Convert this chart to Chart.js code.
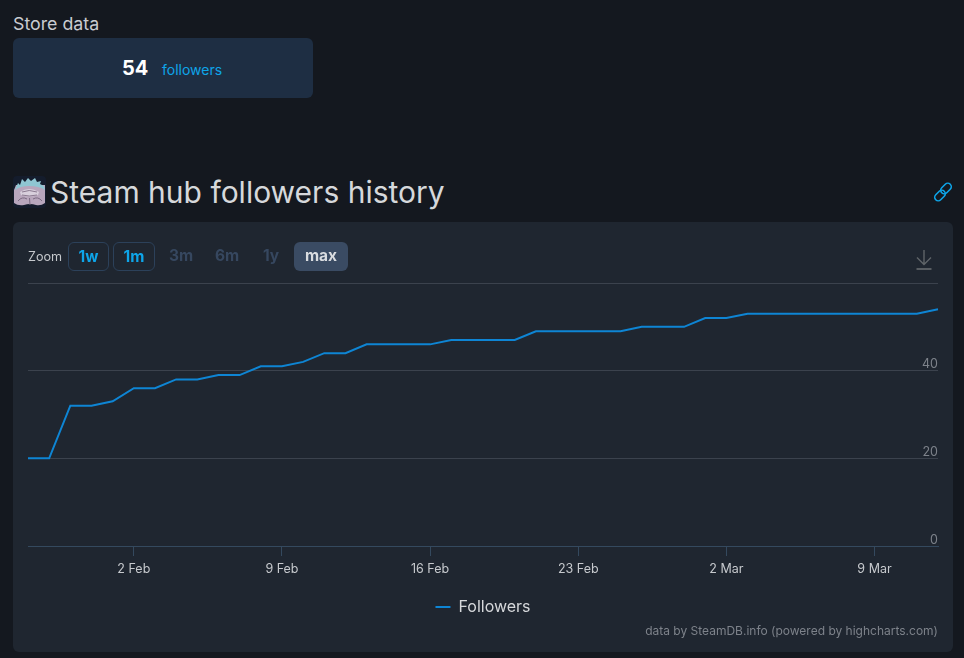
<!DOCTYPE html>
<html>
<head>
<meta charset="utf-8">
<title>Steam hub followers history</title>
<script src="https://cdn.jsdelivr.net/npm/chart.js@4"></script>
<style>
  html, body { margin: 0; height: 100%; background: #14181f; overflow: hidden; }
  body { position: relative; width: 964px; height: 658px; font-family: Inter, 'Noto Sans', sans-serif; }
  .abs { position: absolute; white-space: nowrap; }
  .store-label { left: 13px; top: 13px; font-size: 17.8px; line-height: 22px; color: #c9ccd1; }
  .store-box { left: 13px; top: 38px; width: 300px; height: 60px; background: #1e2e43; border-radius: 6px; }
  .store-num { left: 122px; top: 55px; font-size: 20px; line-height: 26px; font-weight: 700; color: #fff; }
  .store-txt { left: 162px; top: 61px; font-size: 14px; line-height: 18px; color: #0ea5e9; }
  .title { left: 50px; top: 173px; font-size: 30px; line-height: 38px; color: #d6d8db; }
  .avatar { left: 13px; top: 176px; }
  .link { left: 933px; top: 182px; }
  .card { left: 13px; top: 222px; width: 940px; height: 430px; background: #1f2630; border-radius: 6px; }
  canvas { position: absolute; left: 13px; top: 222px; }
  .zoom { left: 28px; top: 249px; font-size: 12.6px; line-height: 16px; color: #c6c9cd; }
  .btn { top: 242px; height: 29px; line-height: 28px; box-sizing: border-box; text-align: center;
         font-size: 15.5px; font-weight: 700; border-radius: 6px; color: #36475f; }
  .btn.on { color: #0ea5e9; border: 1px solid #2c415a; line-height: 27px; }
  .btn.sel { background: #3a4b63; color: #d9dce0; }
  .download { left: 914px; top: 249px; }
  .credits { right: 26px; top: 623px; font-size: 12px; line-height: 15px; color: #7d828a; }
</style>
</head>
<body>
<div class="abs store-label">Store data</div>
<div class="abs store-box"></div>
<div class="abs store-num">54</div>
<div class="abs store-txt">followers</div>

<svg class="abs avatar" width="33" height="32" viewBox="0 0 33 32">
  <rect width="33" height="32" rx="4" fill="#141c2c"/>
  <path d="M1 14 L3 9 L32 9 L32 27 Q28 30 23 29 Q17 27 11 29 Q5 30 1 27 Z" fill="#b8a6bc"/>
  <path d="M2 14 L5 7 L7 9 L9 3 L12 6 L15 2 L18 5 L22 2 L24 6 L28 5 L27 8 L31 10 L32 14 Q26 10 16 10 Q7 10 2 14 Z" fill="#8fc6d2"/>
  <path d="M7 16 Q16 10 26 16 L25 19 Q16 22 8 19 Z" fill="#d8cfdc"/>
  <path d="M9 16 Q16 13 24 16 M9 19 Q16 21 24 19" stroke="#8b7a90" fill="none"/>
  <path d="M16.500 22 L17 29 M5 25 Q9 20 14 23 M20 23 Q25 20 29 25" stroke="#7b6a81" fill="none"/>
</svg>
<div class="abs title">Steam hub followers history</div>
<svg class="abs link" width="20" height="20" viewBox="0 0 20 20" fill="none" stroke="#0ea5e9" stroke-width="1.6">
  <rect x="9.500" y="0.500" width="7" height="12" rx="3.500" transform="rotate(45 13 6.500)"/>
  <rect x="3.500" y="7.500" width="7" height="12" rx="3.500" transform="rotate(45 7 13.500)"/>
</svg>

<div class="abs card"></div>
<canvas id="followersChart"></canvas>

<div class="abs zoom">Zoom</div>
<div class="abs btn on" style="left:68px;width:41px">1w</div>
<div class="abs btn on" style="left:113px;width:42px">1m</div>
<div class="abs btn" style="left:160px;width:42px">3m</div>
<div class="abs btn" style="left:206px;width:42px">6m</div>
<div class="abs btn" style="left:250px;width:42px">1y</div>
<div class="abs btn sel" style="left:294px;width:54px">max</div>
<svg class="abs download" width="20" height="22" viewBox="0 0 20 22" fill="none" stroke="#5f6468" stroke-width="1.4">
  <path d="M10 1 V15 M3 8.5 L10 15.5 L17 8.5"/>
  <path d="M2.5 20 H17.5" stroke-width="1.8"/>
</svg>
<div class="abs credits">data by SteamDB.info (powered by highcharts.com)</div>

<script>
// ── Data ──────────────────────────────────────────────────────
const days = [
  '28 Jan', '29 Jan', '30 Jan', '31 Jan',
  '1 Feb', '2 Feb', '3 Feb', '4 Feb', '5 Feb', '6 Feb', '7 Feb', '8 Feb', '9 Feb', '10 Feb',
  '11 Feb', '12 Feb', '13 Feb', '14 Feb', '15 Feb', '16 Feb', '17 Feb', '18 Feb', '19 Feb', '20 Feb',
  '21 Feb', '22 Feb', '23 Feb', '24 Feb', '25 Feb', '26 Feb', '27 Feb', '28 Feb',
  '1 Mar', '2 Mar', '3 Mar', '4 Mar', '5 Mar', '6 Mar', '7 Mar', '8 Mar', '9 Mar', '10 Mar', '11 Mar', '12 Mar',
];
const followers = [
  20, 20, 32, 32,
  33, 36, 36, 38, 38, 39, 39, 41, 41, 42,
  44, 44, 46, 46, 46, 46, 47, 47, 47, 47,
  49, 49, 49, 49, 49, 50, 50, 50,
  52, 52, 53, 53, 53, 53, 53, 53, 53, 53, 53, 54,
];
const xTickLabels = ['2 Feb', '9 Feb', '16 Feb', '23 Feb', '2 Mar', '9 Mar'];
const yTickLabels = [0, 20, 40];

// ── Chart ─────────────────────────────────────────────────────
const canvas = document.getElementById('followersChart');
canvas.style.width = '940px';
canvas.style.height = '430px';

new Chart(canvas, {
  type: 'line',
  data: {
    labels: days,
    datasets: [{
      label:           'Followers',
      data:            followers,
      borderColor:     '#0e85d4',
      backgroundColor: '#0e85d4',
      borderWidth:     2,
      pointRadius:     0,
      tension:         0,
    }],
  },
  options: {
    responsive:  false,
    animation:   false,
    layout:      { padding: { left: 15, right: 15, top: 61, bottom: 27 } },
    plugins: {
      tooltip: { enabled: false },
      legend: {
        position: 'bottom',
        labels: {
          color:     '#d6d8db',
          boxWidth:  15,
          boxHeight: 2,
          padding:   17,
          font:      { family: 'Inter', size: 16 },
          generateLabels: (chart) => Chart.defaults.plugins.legend.labels
            .generateLabels(chart)
            .map(item => ({ ...item, lineWidth: 0 })),
        },
      },
    },
    scales: {
      x: {
        type:   'category',
        offset: false,
        border: { color: '#34495e', width: 1 },
        grid: {
          drawOnChartArea: false,
          tickLength:      10,
          tickColor:       '#34495e',
        },
        afterBuildTicks: (scale) => {
          scale.ticks = scale.ticks.filter(t => xTickLabels.includes(days[t.value]));
        },
        ticks: {
          autoSkip:    false,
          maxRotation: 0,
          padding:     5.5,
          color:       '#c6c9cd',
          font:        { family: 'Inter', size: 12.5 },
          callback:    (val) => days[val],
        },
      },
      y: {
        position: 'right',
        min:      0,
        max:      60,
        border:   { display: false },
        grid: {
          color:     (ctx) => (ctx.tick.value === 0 ? '#34495e' : '#3b424d'),
          drawTicks: false,
        },
        ticks: {
          mirror:      true,
          stepSize:    20,
          padding:     0,
          labelOffset: -6,
          color:       '#7d828a',
          font:        { family: 'Inter', size: 12.5 },
          callback:    (val) => (yTickLabels.includes(val) ? String(val) : ''),
        },
      },
    },
  },
});
</script>
</body>
</html>
